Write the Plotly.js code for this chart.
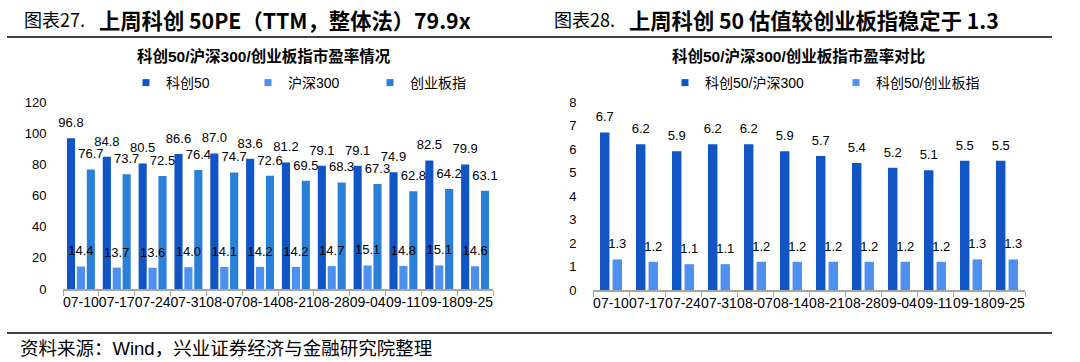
<!DOCTYPE html>
<html><head><meta charset="utf-8">
<script src="https://cdn.plot.ly/plotly-3.0.1.min.js"></script>
<style>
html,body{margin:0;padding:0;background:#fff;}
#wrap{position:relative;width:1080px;height:362px;overflow:hidden;background:#fff;}
#left{position:absolute;left:0;top:0;width:540px;height:362px;}
#right{position:absolute;left:540px;top:0;width:540px;height:362px;}
</style></head><body>
<div id="wrap"><div id="left"></div><div id="right"></div></div>
<script>
// ---- data ----
const dates = ['07-10','07-17','07-24','07-31','08-07','08-14','08-21','08-28','09-04','09-11','09-18','09-25'];
const kc50PE   = [96.8, 84.8, 80.5, 86.6, 87.0, 83.6, 81.2, 79.1, 79.1, 74.9, 82.5, 79.9];
const hs300PE  = [14.4, 13.7, 13.6, 14.0, 14.1, 14.2, 14.2, 14.7, 15.1, 14.8, 15.1, 14.6];
const cybPE    = [76.7, 73.7, 72.5, 76.4, 74.7, 72.6, 69.5, 68.3, 67.3, 62.8, 64.2, 63.1];
const ratioHs  = [6.7, 6.2, 5.9, 6.2, 6.2, 5.9, 5.7, 5.4, 5.2, 5.1, 5.5, 5.5];
const ratioCyb = [1.3, 1.2, 1.1, 1.1, 1.2, 1.2, 1.2, 1.2, 1.2, 1.2, 1.3, 1.3];
const leftNames  = ['科创50', '沪深300', '创业板指'];
const rightNames = ['科创50/沪深300', '科创50/创业板指'];

// ---- styles ----
const FONT = 'Liberation Sans, Arial, "Noto Sans CJK SC", sans-serif';
const CJK = '"Noto Sans CJK SC", "Noto Sans", sans-serif';
const C_DARK = '#1155c4', C_LIGHT = '#4d90f0', C_MID = '#2a80d7';
const H = 362, W = 540;

function bar(y, color, og) {
  return {type:'bar', x:dates, y:y, marker:{color:color}, offsetgroup:og,
          showlegend:false, hoverinfo:'skip'};
}
function lbl(y, og) {
  return {type:'scatter', x:dates, y:y, mode:'markers+text', offsetgroup:og,
          text:y.map(v => v.toFixed(1)), textposition:'top center',
          textfont:{family:FONT, size:13, color:'#000'},
          marker:{size:11, color:'rgba(0,0,0,0)'}, cliponaxis:false,
          showlegend:false, hoverinfo:'skip'};
}
function leg(name, color, og) {
  return {type:'scatter', x:[null], y:[null], mode:'markers', name:name, offsetgroup:og,
          marker:{symbol:'square', size:7, color:color}, showlegend:true, hoverinfo:'skip'};
}
function hline(x0, x1, ypx) {
  return {type:'line', xref:'paper', yref:'paper', x0:x0/W, x1:x1/W, y0:1-ypx/H, y1:1-ypx/H,
          line:{color:'#000', width:1.6}};
}
function ann(text, xpx, ypx, size, anchor, fam) {
  return {xref:'paper', yref:'paper', x:xpx/W, y:1-ypx/H, xanchor:anchor||'left', yanchor:'middle',
          text:text, showarrow:false, font:{family:fam||FONT, size:size, color:'#000'}};
}
function xax(l, r) {
  return {domain:[l/W, r/W], type:'category', tickson:'boundaries', ticks:'outside', ticklen:5,
          tickcolor:'#a6a6a6', tickwidth:1, showline:true, linecolor:'#a6a6a6', linewidth:1.5,
          showgrid:false, zeroline:false, tickangle:0, tickfont:{family:FONT, size:14, color:'#000'},
          fixedrange:true};
}
function yax(b, t, range, dtick) {
  return {domain:[1-b/H, 1-t/H], range:range, dtick:dtick, showgrid:false, zeroline:false,
          showline:false, ticks:'outside', ticklen:13, tickcolor:'rgba(0,0,0,0)',
          tickfont:{family:FONT, size:13, color:'#000'}, fixedrange:true};
}

// ---- left chart ----
const leftData = [
  bar(kc50PE, C_DARK, 'a'), bar(hs300PE, C_LIGHT, 'b'), bar(cybPE, C_MID, 'c'),
  lbl(kc50PE, 'a'), lbl(hs300PE, 'b'), lbl(cybPE, 'c'),
  leg(leftNames[0], C_DARK, 'a'), leg(leftNames[1], C_LIGHT, 'b'), leg(leftNames[2], C_MID, 'c')
];
const leftLayout = {
  width:W, height:H, margin:{l:0, r:0, t:0, b:0},
  paper_bgcolor:'#fff', plot_bgcolor:'#fff',
  font:{family:FONT, size:13, color:'#000'},
  barmode:'group', bargap:0.17, bargroupgap:0.18, scattermode:'group', scattergap:0.17,
  xaxis:xax(63, 493), yaxis:yax(289, 102, [0, 120], 20),
  showlegend:true,
  legend:{orientation:'h', x:126/W, y:1-83/H, xanchor:'left', yanchor:'middle',
          entrywidth:77, entrywidthmode:'pixels', bgcolor:'rgba(0,0,0,0)',
          font:{family:FONT, size:14, color:'#000'}, itemclick:false, itemdoubleclick:false},
  annotations:[
    ann('图表27.', 22, 19, 18, 'left', CJK),
    ann('<b>上周科创 50PE（TTM，整体法）79.9x</b>', 97, 19, 21.3, 'left', CJK),
    ann('<b>科创50/沪深300/创业板指市盈率情况</b>', 264, 56, 15.5, 'center'),
    ann('资料来源：Wind，兴业证券经济与金融研究院整理', 18, 348, 18.5, 'left')
  ],
  shapes:[hline(7, 540, 37), hline(7, 540, 333)]
};

// ---- right chart ----
const rightData = [
  bar(ratioHs, C_DARK, 'a'), bar(ratioCyb, C_LIGHT, 'b'),
  lbl(ratioHs, 'a'), lbl(ratioCyb, 'b'),
  leg(rightNames[0], C_DARK, 'a'), leg(rightNames[1], C_LIGHT, 'b')
];
const rightLayout = {
  width:W, height:H, margin:{l:0, r:0, t:0, b:0},
  paper_bgcolor:'#fff', plot_bgcolor:'#fff',
  font:{family:FONT, size:13, color:'#000'},
  barmode:'group', bargap:0.3, bargroupgap:0.25, scattermode:'group', scattergap:0.3,
  xaxis:xax(53, 485), yaxis:yax(290, 102, [0, 8], 1),
  showlegend:true,
  legend:{orientation:'h', x:125/W, y:1-83/H, xanchor:'left', yanchor:'middle',
          entrywidth:126, entrywidthmode:'pixels', bgcolor:'rgba(0,0,0,0)',
          font:{family:FONT, size:14, color:'#000'}, itemclick:false, itemdoubleclick:false},
  annotations:[
    ann('图表28.', 12, 19, 18, 'left', CJK),
    ann('<b>上周科创 50 估值较创业板指稳定于 1.3</b>', 87, 19, 21.3, 'left', CJK),
    ann('<b>科创50/沪深300/创业板指市盈率对比</b>', 258, 56, 15.5, 'center')
  ],
  shapes:[hline(0, 512, 37), hline(0, 512, 333)]
};

const cfg = {staticPlot:true, displayModeBar:false};
Plotly.newPlot('left', leftData, leftLayout, cfg);
Plotly.newPlot('right', rightData, rightLayout, cfg);
</script>
</body></html>
